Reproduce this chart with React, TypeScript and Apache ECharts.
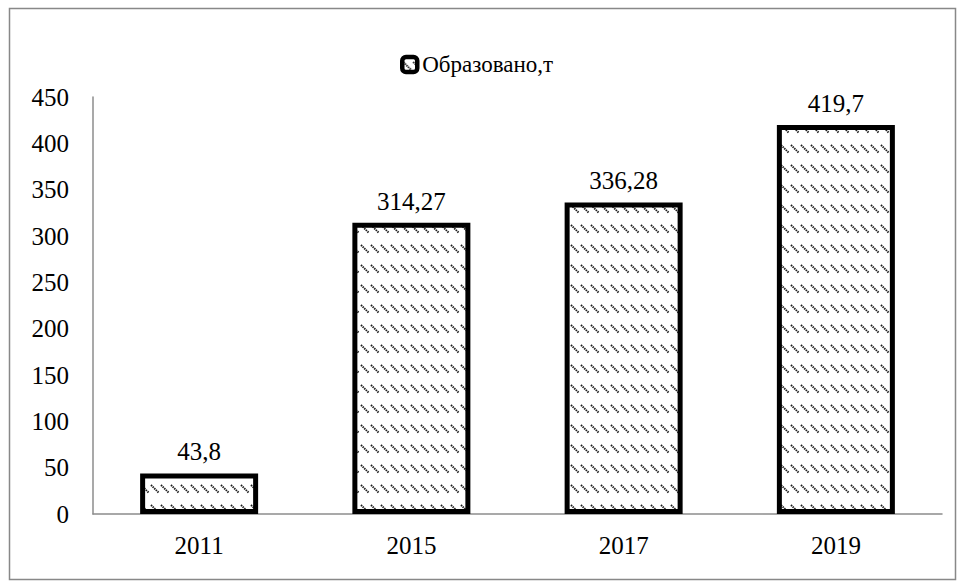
import React, { useEffect, useRef } from "react";
import * as echarts from "echarts";

const categories = ["2011", "2015", "2017", "2019"];
const seriesName = "Образовано,т";
const values = [43.8, 314.27, 336.28, 419.7];
const yTicks = { min: 0, max: 450, interval: 50 };

const FONT = "'Liberation Serif', 'Times New Roman', serif";

const patternSvg =
  "<svg xmlns='http://www.w3.org/2000/svg' width='10' height='20'>" +
  "<rect width='10' height='20' fill='white'/>" +
  "<line x1='1' y1='5' x2='8.5' y2='12.5' stroke='#1a1a1a' stroke-width='1.9' stroke-dasharray='1.5 0.8'/>" +
  "</svg>";
const patternUrl = "data:image/svg+xml;charset=utf-8," + encodeURIComponent(patternSvg);

export default function App() {
  const ref = useRef<HTMLDivElement>(null);
  useEffect(() => {
    document.body.style.margin = "0";
    if (!ref.current) return;
    const chart = echarts.init(ref.current, null, { renderer: "svg" });
    const fill: any = {
      image: patternUrl,
      repeat: "repeat",
      imageWidth: 10,
      imageHeight: 20,
    };
    chart.setOption({
      animation: false,
      backgroundColor: "#fff",
      textStyle: { fontFamily: FONT },
      graphic: [
        {
          type: "rect",
          shape: { x: 9.5, y: 8.5, width: 946, height: 571 },
          style: { fill: "none", stroke: "#888", lineWidth: 1.5 },
          silent: true,
        },
      ],
      legend: {
        top: 48,
        left: 395,
        itemWidth: 15,
        itemHeight: 15,
        itemGap: 4,
        icon: "roundRect",
        textStyle: { fontFamily: FONT, fontSize: 23, color: "#000" },
        data: [
          {
            name: seriesName,
            itemStyle: { color: fill, borderColor: "#000", borderWidth: 4.5 },
          },
        ],
      },
      grid: { left: 93, right: 15, top: 97, bottom: 67, containLabel: false },
      xAxis: {
        type: "category",
        data: categories,
        axisLine: { show: true, lineStyle: { color: "#8c8c8c", width: 1.5 } },
        axisTick: { show: false },
        axisLabel: { fontFamily: FONT, fontSize: 25, color: "#000", margin: 19 },
      },
      yAxis: {
        type: "value",
        min: yTicks.min,
        max: yTicks.max,
        interval: yTicks.interval,
        axisLine: { show: true, lineStyle: { color: "#8c8c8c", width: 1.5 } },
        axisTick: { show: false },
        splitLine: { show: false },
        axisLabel: { fontFamily: FONT, fontSize: 25, color: "#000", margin: 24 },
      },
      series: [
        {
          name: seriesName,
          type: "bar",
          data: values,
          barWidth: 118,
          itemStyle: { color: fill, borderColor: "#000", borderWidth: 5 },
          label: {
            show: true,
            position: "top",
            distance: 9,
            fontFamily: FONT,
            fontSize: 25,
            color: "#000",
            formatter: (p: any) => String(p.value).replace(".", ","),
          },
        },
      ],
    });
    return () => chart.dispose();
  }, []);
  return <div ref={ref} style={{ width: 957, height: 581 }} />;
}
